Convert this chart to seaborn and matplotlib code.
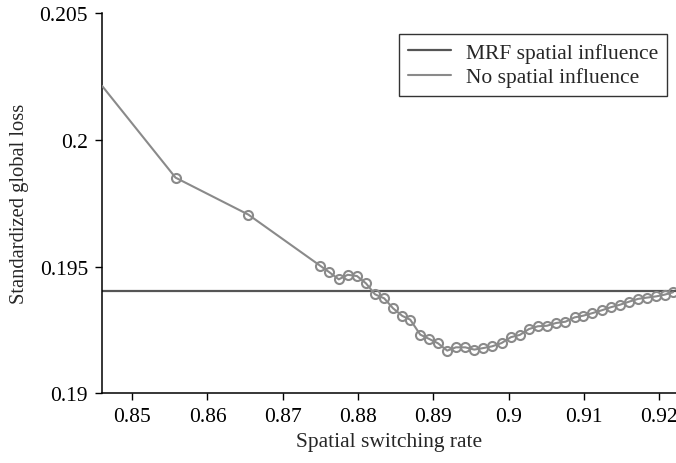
import numpy as np
import pandas as pd
import matplotlib
matplotlib.use("Agg")
import matplotlib.pyplot as plt
from matplotlib.lines import Line2D
import seaborn as sns

# ---- data ----
switching_rate = [
    0.8460, 0.85576, 0.86544,
    0.87495, 0.87618, 0.87743, 0.87862, 0.87985, 0.88105, 0.88224, 0.88347,
    0.88463, 0.88586, 0.88692, 0.88825, 0.88944, 0.89060, 0.89183, 0.89298,
    0.89422, 0.89541, 0.89660, 0.89780, 0.89905, 0.90028, 0.90147, 0.90267,
    0.90386, 0.90505, 0.90629, 0.90753, 0.90873, 0.90992, 0.91111, 0.91235,
    0.91354, 0.91477, 0.91597, 0.91716, 0.91836, 0.91960, 0.92074, 0.92180,
]
no_spatial_loss = [
    0.20213, 0.19851, 0.19705,
    0.19504, 0.19478, 0.19450, 0.19468, 0.19463, 0.19434, 0.19391, 0.19375,
    0.19336, 0.19306, 0.19291, 0.19232, 0.19215, 0.19198, 0.19169, 0.19182,
    0.19182, 0.19173, 0.19179, 0.19186, 0.19199, 0.19222, 0.19231, 0.19254,
    0.19265, 0.19267, 0.19278, 0.19283, 0.19300, 0.19307, 0.19317, 0.19328,
    0.19340, 0.19350, 0.19362, 0.19373, 0.19378, 0.19383, 0.19390, 0.19399,
]
mrf_loss = 0.19404

x_ticks = [0.85, 0.86, 0.87, 0.88, 0.89, 0.90, 0.91, 0.92]
x_tick_labels = ["0.85", "0.86", "0.87", "0.88", "0.89", "0.9", "0.91", "0.92"]
y_ticks = [0.19, 0.195, 0.20, 0.205]
y_tick_labels = ["0.19", "0.195", "0.2", "0.205"]
series_names = ["MRF spatial influence", "No spatial influence"]

# ---- style ----
sns.set_style("ticks")
plt.rcParams["font.family"] = ["Liberation Serif", "DejaVu Serif"]

df = pd.DataFrame({"rate": switching_rate, "loss": no_spatial_loss})

fig = plt.figure(figsize=(6.76, 4.64), dpi=100)
ax = fig.add_axes([0.1509, 0.1498, 0.8491, 0.8200])

mrf_color = "#555555"
nosp_color = "#8a8a8a"

ax.axhline(mrf_loss, color=mrf_color, lw=1.6, zorder=2)
sns.lineplot(data=df, x="rate", y="loss", ax=ax, color=nosp_color, lw=1.5,
             marker="o", markersize=6.5, markerfacecolor="none",
             markeredgecolor=nosp_color, markeredgewidth=1.5,
             markevery=list(range(1, len(switching_rate))), zorder=3,
             clip_on=True)

ax.set_xlim(0.8460, 0.9222)
ax.set_ylim(0.19, 0.205)
ax.set_xticks(x_ticks)
ax.set_xticklabels(x_tick_labels)
ax.set_yticks(y_ticks)
ax.set_yticklabels(y_tick_labels)

for s in ["top", "right"]:
    ax.spines[s].set_visible(False)
for s in ["left", "bottom"]:
    ax.spines[s].set_color("black")
    ax.spines[s].set_linewidth(1.1)

ax.tick_params(axis="both", direction="out", length=5, width=1.0,
               colors="black", labelsize=15.5, pad=5)
ax.set_xlabel("Spatial switching rate", fontsize=15.5, labelpad=4)
ax.set_ylabel("Standardized global loss", fontsize=14.8, labelpad=8)

handles = [Line2D([], [], color=mrf_color, lw=1.6),
           Line2D([], [], color=nosp_color, lw=1.5)]
leg = ax.legend(handles, series_names, loc="upper right",
                bbox_to_anchor=(0.9843, 0.9448), fontsize=15.5,
                frameon=True, fancybox=False, handlelength=2.0,
                handletextpad=0.7, borderpad=0.4, labelspacing=0.2,
                borderaxespad=0)
leg.get_frame().set_edgecolor("black")
leg.get_frame().set_linewidth(1.0)

fig.savefig("out.png", dpi=100)
